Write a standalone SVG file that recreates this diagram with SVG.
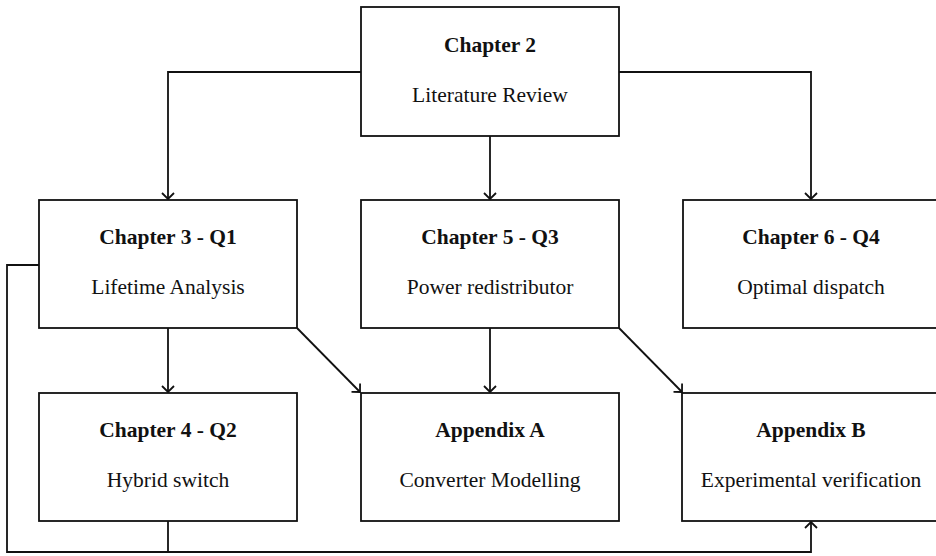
<svg xmlns="http://www.w3.org/2000/svg" width="936" height="556" viewBox="0 0 936 556">
<style>
.box{fill:#fff;stroke:#111;stroke-width:1.8}
.t{font-family:"Liberation Serif","Times New Roman",serif;font-size:21.5px;fill:#111;text-anchor:middle}
.b{font-weight:bold}
.c{fill:none;stroke:#111;stroke-width:1.8}
</style>
<defs>
<marker id="ah" markerUnits="userSpaceOnUse" markerWidth="16" markerHeight="16" viewBox="-8 -8 16 16" refX="0" refY="0" orient="auto">
<path d="M-6,-6 L0,0 L-6,6" fill="none" stroke="#111" stroke-width="1.8"/>
</marker>
</defs>
<rect width="936" height="556" fill="#fff"/>
<g id="connectors">
<polyline class="c" points="361,72 168,72 168,199" marker-end="url(#ah)"/>
<polyline class="c" points="619,72 811,72 811,199" marker-end="url(#ah)"/>
<line class="c" x1="490" y1="136" x2="490" y2="199" marker-end="url(#ah)"/>
<line class="c" x1="168" y1="328" x2="168" y2="392" marker-end="url(#ah)"/>
<line class="c" x1="490" y1="328" x2="490" y2="392" marker-end="url(#ah)"/>
<line class="c" x1="297" y1="328" x2="360" y2="392" marker-end="url(#ah)"/>
<line class="c" x1="619" y1="328" x2="682" y2="392" marker-end="url(#ah)"/>
<polyline class="c" points="39,265 7,265 7,552 811,552 811,522" marker-end="url(#ah)"/>
<line class="c" x1="168" y1="521" x2="168" y2="552"/>
</g>
<g id="ch2">
<rect class="box" x="361" y="7" width="258" height="129"/>
<text class="t b" x="490" y="52">Chapter 2</text>
<text class="t" x="490" y="102">Literature Review</text>
</g>
<g id="ch3">
<rect class="box" x="39" y="200" width="258" height="128"/>
<text class="t b" x="168" y="244">Chapter 3 - Q1</text>
<text class="t" x="168" y="294">Lifetime Analysis</text>
</g>
<g id="ch5">
<rect class="box" x="361" y="200" width="258" height="128"/>
<text class="t b" x="490" y="244">Chapter 5 - Q3</text>
<text class="t" x="490" y="294">Power redistributor</text>
</g>
<g id="ch6">
<rect class="box" x="683" y="200" width="258" height="128"/>
<text class="t b" x="811" y="244">Chapter 6 - Q4</text>
<text class="t" x="811" y="294">Optimal dispatch</text>
</g>
<g id="ch4">
<rect class="box" x="39" y="393" width="258" height="128"/>
<text class="t b" x="168" y="437">Chapter 4 - Q2</text>
<text class="t" x="168" y="487">Hybrid switch</text>
</g>
<g id="appA">
<rect class="box" x="361" y="393" width="258" height="128"/>
<text class="t b" x="490" y="437">Appendix A</text>
<text class="t" x="490" y="487">Converter Modelling</text>
</g>
<g id="appB">
<rect class="box" x="682" y="393" width="258" height="128"/>
<text class="t b" x="811" y="437">Appendix B</text>
<text class="t" x="811" y="487">Experimental verification</text>
</g>
</svg>
